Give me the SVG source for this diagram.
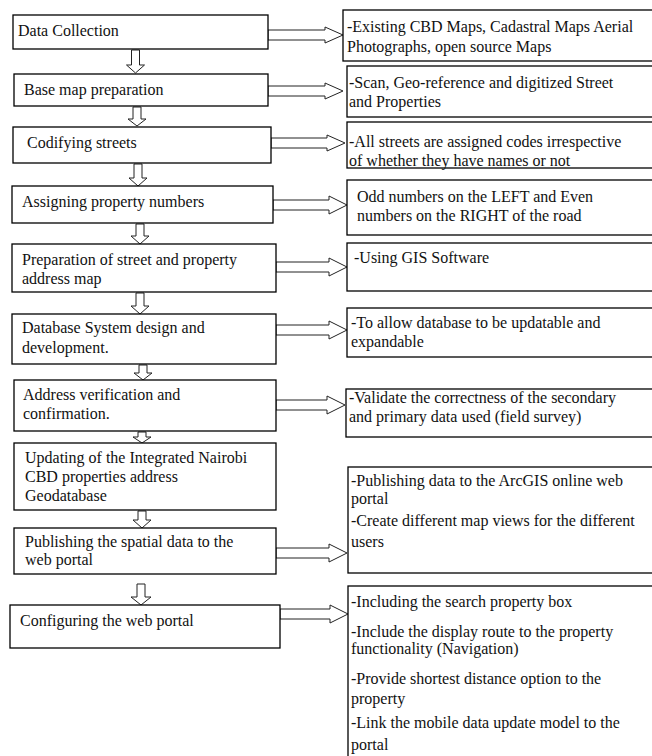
<svg xmlns="http://www.w3.org/2000/svg" width="652" height="756" viewBox="0 0 652 756">
<style>
.box{fill:#fff;stroke:#000;stroke-width:1.3}
.arr{fill:#fff;stroke:#222;stroke-width:1}
text{font-family:"Liberation Serif","Times New Roman",serif;font-size:16px;fill:#111}
</style>
<rect x="0" y="0" width="652" height="756" fill="#fff"/>
<g id="connectors">
<path class="arr" d="M131.5,50 L139.5,50 L139.5,65 L144.5,65 L135.5,73 L126.5,65 L131.5,65 Z"/>
<path class="arr" d="M133,107 L141,107 L141,119 L146,119 L137,126 L128,119 L133,119 Z"/>
<path class="arr" d="M134,164 L142,164 L142,178 L147,178 L138,186 L129,178 L134,178 Z"/>
<path class="arr" d="M136,224 L144,224 L144,236 L149,236 L140,244 L131,236 L136,236 Z"/>
<path class="arr" d="M136,293 L144,293 L144,306 L149,306 L140,314 L131,306 L136,306 Z"/>
<path class="arr" d="M139,365 L147,365 L147,373 L152,373 L143,380 L134,373 L139,373 Z"/>
<path class="arr" d="M138,432 L146,432 L146,437 L151,437 L142,443 L133,437 L138,437 Z"/>
<path class="arr" d="M138,511 L146,511 L146,520 L151,520 L142,528 L133,520 L138,520 Z"/>
<path class="arr" d="M137,584 L145,584 L145,597 L151,597 L141,605 L131,597 L137,597 Z"/>
<path class="arr" d="M268,30 L325,30 L325,27 L343,35 L325,43 L325,40 L268,40 Z"/>
<path class="arr" d="M268,86 L325,86 L325,83 L343,91 L325,99 L325,96 L268,96 Z"/>
<path class="arr" d="M271,138 L327,138 L327,135 L345,143 L327,151 L327,148 L271,148 Z"/>
<path class="arr" d="M273,200 L329,200 L329,196 L347,205 L329,214 L329,210 L273,210 Z"/>
<path class="arr" d="M276,262 L329,262 L329,258 L347,267 L329,276 L329,272 L276,272 Z"/>
<path class="arr" d="M276,325 L329,325 L329,321 L347,330 L329,339 L329,335 L276,335 Z"/>
<path class="arr" d="M276,400 L327,400 L327,396 L345,405 L327,414 L327,410 L276,410 Z"/>
<path class="arr" d="M276,548 L329,548 L329,544 L347,553 L329,562 L329,558 L276,558 Z"/>
<path class="arr" d="M280,609 L330,609 L330,605 L348,614 L330,623 L330,619 L280,619 Z"/>
</g>
<g id="n1"><rect class="box" x="13" y="15" width="255" height="34"/><text x="18" y="36">Data Collection</text></g>
<g id="n2"><rect class="box" x="14" y="74" width="254" height="32"/><text x="24" y="95">Base map preparation</text></g>
<g id="n3"><rect class="box" x="13" y="127" width="258" height="36"/><text x="27" y="148">Codifying streets</text></g>
<g id="n4"><rect class="box" x="12" y="186" width="261" height="37"/><text x="22" y="207">Assigning property numbers</text></g>
<g id="n5"><rect class="box" x="12" y="244" width="264" height="48"/><text x="22" y="265">Preparation of street and property</text><text x="22" y="284">address map</text></g>
<g id="n6"><rect class="box" x="12" y="314" width="264" height="50"/><text x="22" y="333">Database System design and</text><text x="22" y="353">development.</text></g>
<g id="n7"><rect class="box" x="14" y="380" width="262" height="51"/><text x="23" y="400">Address verification and</text><text x="23" y="419">confirmation.</text></g>
<g id="n8"><rect class="box" x="14" y="443" width="262" height="67"/><text x="25" y="463">Updating of the Integrated Nairobi</text><text x="25" y="482">CBD properties address</text><text x="25" y="501">Geodatabase</text></g>
<g id="n9"><rect class="box" x="14" y="528" width="262" height="46"/><text x="25" y="547">Publishing the spatial data to the</text><text x="25" y="565">web portal</text></g>
<g id="n10"><rect class="box" x="10" y="605" width="270" height="43"/><text x="20" y="626">Configuring the web portal</text></g>
<g id="r1"><rect class="box" x="343" y="10" width="320" height="51"/><text x="347" y="32">-Existing CBD Maps, Cadastral Maps Aerial</text><text x="347" y="52">Photographs, open source Maps</text></g>
<g id="r2"><rect class="box" x="347" y="66" width="320" height="51"/><text x="349" y="88">-Scan, Geo-reference and digitized Street</text><text x="349" y="107">and Properties</text></g>
<g id="r3"><rect class="box" x="347" y="122" width="320" height="46"/><text x="349" y="147">-All streets are assigned codes irrespective</text><text x="349" y="166">of whether they have names or not</text></g>
<g id="r4"><rect class="box" x="347" y="180" width="320" height="55"/><text x="357" y="202">Odd numbers on the LEFT and Even</text><text x="357" y="221">numbers on the RIGHT of the road</text></g>
<g id="r5"><rect class="box" x="347" y="243" width="320" height="48"/><text x="354" y="263">-Using GIS Software</text></g>
<g id="r6"><rect class="box" x="347" y="308" width="320" height="49"/><text x="351" y="328">-To allow database to be updatable and</text><text x="351" y="347">expandable</text></g>
<g id="r7"><rect class="box" x="346" y="389" width="320" height="48"/><text x="349" y="403">-Validate the correctness of the secondary</text><text x="349" y="422">and primary data used (field survey)</text></g>
<g id="r8"><rect class="box" x="348" y="467" width="320" height="106"/><text x="351" y="486">-Publishing data to the ArcGIS online web</text><text x="351" y="504">portal</text><text x="351" y="526">-Create different map views for the different</text><text x="351" y="547">users</text></g>
<g id="r9"><rect class="box" x="348" y="586" width="320" height="190"/><text x="351" y="607">-Including the search property box</text><text x="351" y="637">-Include the display route to the property</text><text x="351" y="654">functionality (Navigation)</text><text x="351" y="684">-Provide shortest distance option to the</text><text x="351" y="704">property</text><text x="351" y="728">-Link the mobile data update model to the</text><text x="351" y="750">portal</text></g>
</svg>
